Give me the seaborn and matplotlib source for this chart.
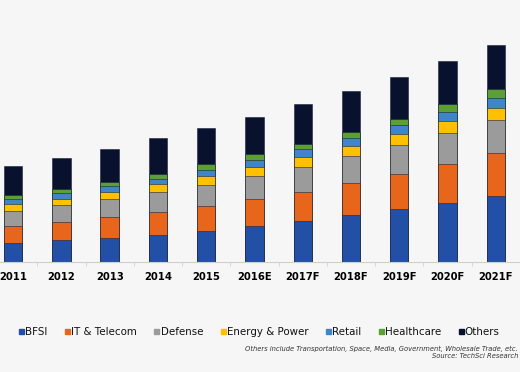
import numpy as np
import pandas as pd
import seaborn as sns
import matplotlib
import matplotlib.pyplot as plt
from matplotlib.lines import Line2D

matplotlib.use("Agg")

years = ["2011", "2012", "2013", "2014", "2015", "2016E", "2017F",
         "2018F", "2019F", "2020F", "2021F"]
segments = ["BFSI", "IT & Telecom", "Defense", "Energy & Power",
            "Retail", "Healthcare", "Others"]
colors = ["#2250a6", "#e8651c", "#9b9b9b", "#ffc000",
          "#3f86c8", "#5b9f35", "#08122e"]

# estimated segment sizes (no y axis in the source, relative units)
bfsi = [19.0, 21.7, 24.0, 27.4, 31.4, 35.7, 40.7, 46.7, 52.7, 59.4, 66.0]
it_telecom = [17.4, 18.0, 20.7, 22.6, 24.6, 27.0, 29.7, 32.0, 35.7, 39.0, 43.0]
defense = [15.0, 17.0, 18.0, 19.7, 21.4, 23.3, 24.6, 27.0, 28.3, 30.3, 32.7]
energy = [6.6, 6.7, 7.3, 8.0, 8.3, 9.0, 9.7, 10.0, 11.0, 12.3, 12.7]
retail = [5.4, 5.6, 6.4, 5.7, 6.7, 7.4, 8.0, 8.3, 9.0, 9.4, 10.0]
healthcare = [4.0, 4.0, 4.0, 5.0, 5.3, 5.3, 5.7, 6.4, 6.7, 7.3, 8.3]
others = [28.6, 31.4, 33.0, 35.3, 36.0, 37.7, 39.3, 40.3, 41.6, 43.0, 44.3]

df = pd.DataFrame({"Year": years, "BFSI": bfsi, "IT & Telecom": it_telecom,
                   "Defense": defense, "Energy & Power": energy,
                   "Retail": retail, "Healthcare": healthcare,
                   "Others": others})
cum = df[segments].cumsum(axis=1)

fig = plt.figure(figsize=(5.2, 3.72), dpi=100)
fig.patch.set_facecolor("#f6f6f6")
ax = fig.add_axes([0, 1 - 262 / 372, 1, 262 / 372])
ax.set_facecolor("none")

# stacked bars: draw cumulative totals from the top segment down
for seg, col in reversed(list(zip(segments, colors))):
    sns.barplot(x=df["Year"], y=cum[seg], color=col, width=0.38,
                edgecolor="#1c2238", linewidth=0.4, saturation=1, ax=ax)

ax.set_ylim(0, 262)
ax.set_xlim(-13.3 / 49, (520 - 13.3) / 49)
ax.set_xlabel("")
ax.set_ylabel("")
ax.set_yticks([])
for s in ["left", "right", "top"]:
    ax.spines[s].set_visible(False)
ax.spines["bottom"].set_color("#cfcfcf")
ax.spines["bottom"].set_linewidth(0.8)
ax.tick_params(axis="x", which="major", length=0, pad=7)
ax.set_xticks(np.arange(len(years)) + 0.5, minor=True)
ax.tick_params(axis="x", which="minor", length=3, color="#cfcfcf")
for lbl in ax.get_xticklabels():
    lbl.set_fontweight("bold")
    lbl.set_fontsize(7.2)

handles = [Line2D([], [], marker="s", linestyle="none", markersize=3.6,
                  markerfacecolor=c, markeredgecolor=c) for c in colors]
fig.legend(handles, segments, loc="center", bbox_to_anchor=(0.497, 1 - 332 / 372),
           ncol=7, frameon=False, fontsize=7.4, handletextpad=0.05,
           columnspacing=1.55, handlelength=0.7, labelcolor="#111111")

fig.text(0.996, 1 - 349 / 372,
         "Others include Transportation, Space, Media, Government, Wholesale Trade, etc.",
         ha="right", va="center", fontsize=4.9, style="italic", color="#333333")
fig.text(0.996, 1 - 356 / 372, "Source: TechSci Research",
         ha="right", va="center", fontsize=4.9, style="italic", color="#333333")

fig.savefig("out.png", dpi=100, facecolor=fig.get_facecolor())
